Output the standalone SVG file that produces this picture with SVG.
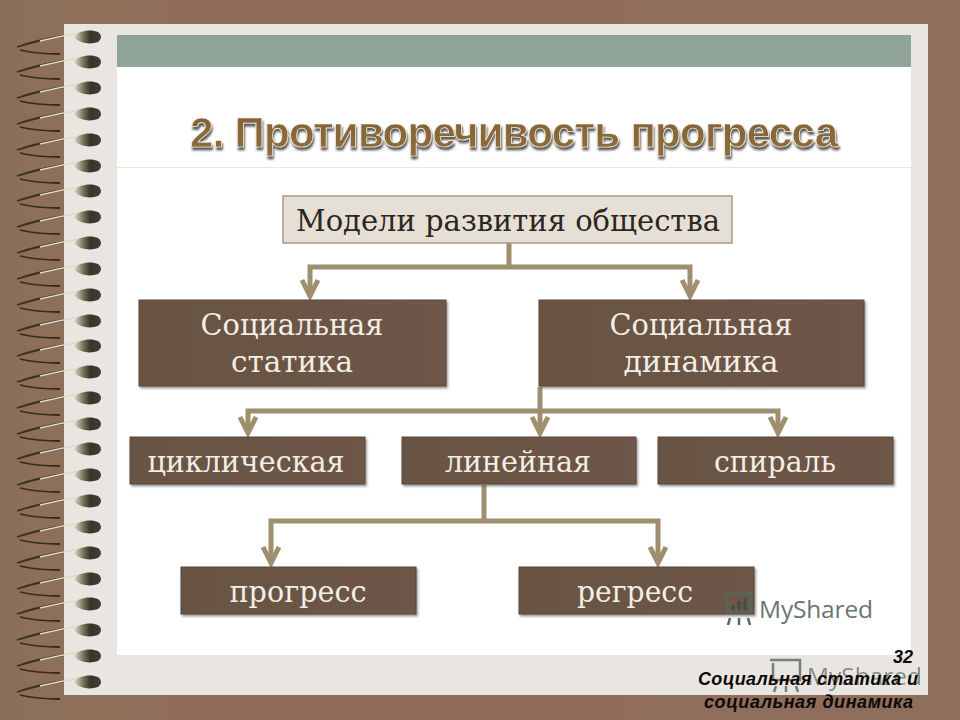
<svg xmlns="http://www.w3.org/2000/svg" xmlns:xlink="http://www.w3.org/1999/xlink" width="960" height="720" viewBox="0 0 960 720">
<style>
.serif{font-family:"DejaVu Serif","Liberation Serif",serif;text-anchor:middle}
.lbl{fill:#f3eee6;font-size:29.500px}
.box{fill:url(#boxg);stroke:#5d493b;stroke-width:1;filter:url(#sh)}
.cn{fill:none;stroke:#a08f6e;stroke-width:5}
.foot{font-family:"Liberation Sans",Arial,sans-serif;font-weight:bold;font-style:italic;font-size:18px;fill:#0c0808;text-anchor:end}
.ms{font-family:"Open Sans","Noto Sans",sans-serif;font-size:24.5px;fill:#66776f}
</style>
<defs>
<linearGradient id="boxg" x1="0" x2="1" y1="0" y2="0"><stop offset="0" stop-color="#695342"/><stop offset="1" stop-color="#6e5748"/></linearGradient>
<linearGradient id="bg" x1="0" x2="1" y1="0" y2="0"><stop offset="0" stop-color="#8a6f58"/><stop offset=".12" stop-color="#8f7059"/><stop offset=".2" stop-color="#906c5a"/><stop offset="1" stop-color="#8f6e5b"/></linearGradient>
<linearGradient id="bead" x1="0" x2="1" y1="0" y2="0"><stop offset="0" stop-color="#e2ddc8"/><stop offset=".35" stop-color="#77725a"/><stop offset=".6" stop-color="#37352a"/><stop offset="1" stop-color="#3f4038"/></linearGradient>
<linearGradient id="title" x1="0" x2="0" y1="0" y2="1"><stop offset="0" stop-color="#7f6038"/><stop offset="1" stop-color="#8f6d3c"/></linearGradient>
<filter id="sh" x="-5%" y="-10%" width="110%" height="125%"><feDropShadow dx="1.500" dy="2" stdDeviation="1.200" flood-color="#555" flood-opacity=".6"/></filter>
<filter id="tsh" x="-5%" y="-20%" width="110%" height="150%"><feDropShadow dx="1" dy="3" stdDeviation="1" flood-color="#3d3d3d" flood-opacity=".85"/></filter>
<marker id="arr" markerUnits="userSpaceOnUse" markerWidth="22" markerHeight="22" refX="18" refY="10" orient="auto"><path d="M2 2 L18 10 L2 18" fill="none" stroke="#a08f6e" stroke-width="5"/></marker>
<g id="coil">
<path d="M17 14 C35 8 50 5 64 3" fill="none" stroke="#3a3025" stroke-width="1.800"/>
<path d="M40 8 C52 5 64 3 80 0" fill="none" stroke="#dedacb" stroke-width="1.500"/>
<path d="M20 17 C32 20 46 21 60 21" fill="none" stroke="#3a2a1e" stroke-width="1.800"/>
<path d="M74 4 C78 -3 92 -4 98 -1 C102 2 102 6 98 9 C90 12 78 10 74 4Z" fill="url(#bead)"/>
</g>
</defs>
<rect width="960" height="720" fill="url(#bg)"/>
<rect x="64" y="24" width="864" height="671" fill="#e9e5e0"/>
<rect x="117" y="35" width="794" height="620" fill="#fff"/>
<rect x="117" y="35" width="794" height="32" fill="#8fa396"/>
<path d="M107 167.500H912" stroke="#eee6d8" stroke-width="1"/>
<g id="spiral">
<use href="#coil" y="33"/><use href="#coil" y="58"/><use href="#coil" y="84"/><use href="#coil" y="110"/><use href="#coil" y="136"/><use href="#coil" y="162"/><use href="#coil" y="187"/><use href="#coil" y="213"/><use href="#coil" y="239"/><use href="#coil" y="265"/><use href="#coil" y="291"/><use href="#coil" y="317"/><use href="#coil" y="342"/><use href="#coil" y="368"/><use href="#coil" y="394"/><use href="#coil" y="420"/><use href="#coil" y="445"/><use href="#coil" y="471"/><use href="#coil" y="497"/><use href="#coil" y="523"/><use href="#coil" y="549"/><use href="#coil" y="575"/><use href="#coil" y="600"/><use href="#coil" y="626"/><use href="#coil" y="652"/><use href="#coil" y="678"/>
</g>
<text id="title-text" x="514" y="147" style="font-family:'Liberation Sans',Arial,sans-serif;font-weight:bold;text-anchor:middle" font-size="42" textLength="648" fill="url(#title)" stroke="#f6f0e0" stroke-width=".7" filter="url(#tsh)">2. Противоречивость прогресса</text>
<g id="connectors">
<path class="cn" d="M509 243V267"/>
<path class="cn" d="M509 267H310V296" marker-end="url(#arr)"/>
<path class="cn" d="M509 267H690V296" marker-end="url(#arr)"/>
<path class="cn" d="M540 387V433" marker-end="url(#arr)"/>
<path class="cn" d="M540 411H248V433" marker-end="url(#arr)"/>
<path class="cn" d="M540 411H778V433" marker-end="url(#arr)"/>
<path class="cn" d="M484 485V521"/>
<path class="cn" d="M484 521H271V563" marker-end="url(#arr)"/>
<path class="cn" d="M484 521H658V563" marker-end="url(#arr)"/>
</g>
<g id="n-models"><rect x="283" y="196" width="449" height="47" fill="#e6dfd5" stroke="#a89a86" stroke-width="1.500"/><text class="serif" x="508" y="231" font-size="30" textLength="424" lengthAdjust="spacingAndGlyphs" fill="#2b2620">Модели развития общества</text></g>
<g id="n-static"><rect class="box" x="139" y="300" width="307" height="86"/><text class="serif lbl" x="292" y="335" textLength="183" lengthAdjust="spacingAndGlyphs">Социальная</text><text class="serif lbl" x="292" y="372" textLength="122" lengthAdjust="spacingAndGlyphs">статика</text></g>
<g id="n-dynamic"><rect class="box" x="539" y="300" width="325" height="86"/><text class="serif lbl" x="701" y="335" textLength="183" lengthAdjust="spacingAndGlyphs">Социальная</text><text class="serif lbl" x="701" y="372" textLength="155" lengthAdjust="spacingAndGlyphs">динамика</text></g>
<g id="n-cyclic"><rect class="box" x="130" y="437" width="235" height="47"/><text class="serif lbl" x="246" y="472" textLength="197" lengthAdjust="spacingAndGlyphs">циклическая</text></g>
<g id="n-linear"><rect class="box" x="402" y="437" width="234" height="47"/><text class="serif lbl" x="518" y="472" textLength="146" lengthAdjust="spacingAndGlyphs">линейная</text></g>
<g id="n-spiral"><rect class="box" x="658" y="437" width="235" height="47"/><text class="serif lbl" x="775" y="472" textLength="122" lengthAdjust="spacingAndGlyphs">спираль</text></g>
<g id="n-progress"><rect class="box" x="181" y="567" width="235" height="47"/><text class="serif lbl" x="298" y="602" textLength="137" lengthAdjust="spacingAndGlyphs">прогресс</text></g>
<g id="n-regress"><rect class="box" x="519" y="567" width="235" height="47"/><text class="serif lbl" x="635" y="602" textLength="116" lengthAdjust="spacingAndGlyphs">регресс</text></g>
<g id="watermark1" fill="none" stroke="#55665c" stroke-width="2.500"><path d="M724 593H751V612H727V596M730 618L728 625M739 618V625M748 618L750 625"/><path d="M733 610V605M739 610V601M745 610V598" stroke-width="3" stroke="#3e4e44"/></g>
<text class="ms" x="759" y="618" textLength="114">MyShared</text>
<g id="watermark2" fill="none" stroke="#73817a" stroke-width="2.500"><path d="M770 660H800V680H773V663M776 686L774 692M786 686V692M796 686L798 692"/></g>
<text class="ms" x="807" y="685" textLength="115" opacity=".8">MyShared</text>
<g id="footer"><text class="foot" x="913" y="663">32</text><text class="foot" x="918" y="685" textLength="220">Социальная статика и</text><text class="foot" x="913" y="708" textLength="209">социальная динамика</text></g>
</svg>
